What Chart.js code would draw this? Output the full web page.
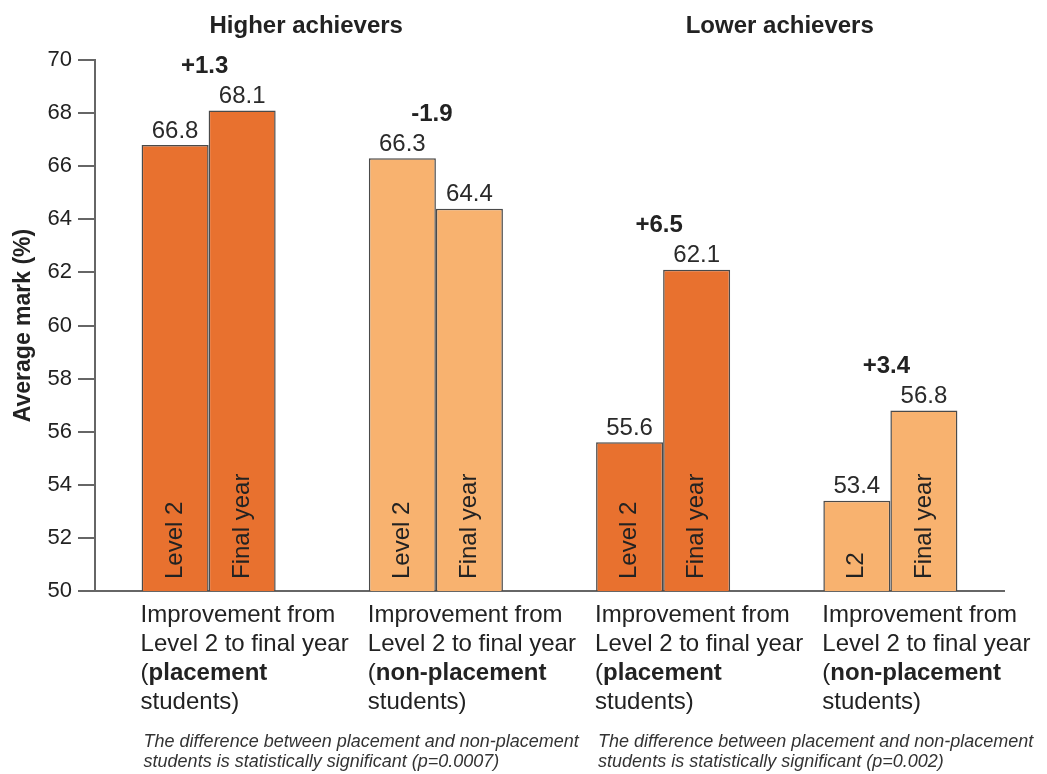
<!DOCTYPE html>
<html>
<head>
<meta charset="utf-8">
<script src="https://cdn.jsdelivr.net/npm/chart.js@4.4.0/dist/chart.umd.min.js"></script>
<style>
  html, body { margin: 0; padding: 0; background: #ffffff; }
  canvas { display: block; }
</style>
</head>
<body>
<canvas id="chart" width="1047" height="774"></canvas>
<script>
// Average marks (%) by group
const groups = ["Higher – placement", "Higher – non-placement", "Lower – placement", "Lower – non-placement"];
const level2Marks = [66.8, 66.3, 55.6, 53.4];
const finalYearMarks = [68.1, 64.4, 62.1, 56.8];
const level2BarText = ["Level 2", "Level 2", "Level 2", "L2"];
const finalYearBarText = ["Final year", "Final year", "Final year", "Final year"];
const studentType = ["placement", "non-placement", "placement", "non-placement"];
const sectionTitles = ["Higher achievers", "Lower achievers"];
const footnotes = [
  ["The difference between placement and non-placement", "students is statistically significant (p=0.0007)"],
  ["The difference between placement and non-placement", "students is statistically significant (p=0.002)"]
];
const yMin = 50, yMax = 70, yStep = 2;

const DARK = "#E8712F";
const LIGHT = "#F8B26F";
const FONT = "'Liberation Sans', Arial, Helvetica, sans-serif";
const TEXT = "#222222";

const fillFor = studentType.map(t => t === "placement" ? DARK : LIGHT);

const annotations = {
  id: "annotations",
  afterDatasetsDraw(chart) {
    const ctx = chart.ctx;
    const m0 = chart.getDatasetMeta(0).data;
    const m1 = chart.getDatasetMeta(1).data;
    const yScale = chart.scales.y;
    const base = yScale.getPixelForValue(yMin);
    ctx.save();

    // value labels above bars and rotated names inside bars
    const drawBarText = (bar, value, name) => {
      ctx.fillStyle = "#2a2a2a";
      ctx.font = "24px " + FONT;
      ctx.textAlign = "center";
      ctx.textBaseline = "middle";
      ctx.fillText(value.toFixed(1), bar.x, bar.y - 14);
      ctx.save();
      ctx.translate(bar.x, base - 12);
      ctx.rotate(-Math.PI / 2);
      ctx.textAlign = "left";
      ctx.textBaseline = "middle";
      ctx.fillStyle = TEXT;
      ctx.fillText(name, 0, 0);
      ctx.restore();
    };

    const centers = [];
    const lefts = [];
    for (let i = 0; i < groups.length; i++) {
      drawBarText(m0[i], level2Marks[i], level2BarText[i]);
      drawBarText(m1[i], finalYearMarks[i], finalYearBarText[i]);
      const cx = (m0[i].x + m1[i].x) / 2;
      centers.push(cx);
      lefts.push(m0[i].x - m0[i].width / 2);

      // change from Level 2 to final year
      const diff = finalYearMarks[i] - level2Marks[i];
      const topY = Math.min(m0[i].y, m1[i].y);
      ctx.font = "bold 24px " + FONT;
      ctx.fillStyle = TEXT;
      ctx.textAlign = "center";
      ctx.textBaseline = "middle";
      ctx.fillText((diff >= 0 ? "+" : "-") + Math.abs(diff).toFixed(1), cx - 4, topY - 44);

      // category description under the axis
      ctx.textAlign = "left";
      const x0 = lefts[i] - 1;
      const lines = [
        [["Improvement from", false]],
        [["Level 2 to final year", false]],
        [["(", false], [studentType[i], true]],
        [["students)", false]]
      ];
      lines.forEach((segs, li) => {
        let x = x0;
        const y = 615 + li * 29;
        segs.forEach(([t, bold]) => {
          ctx.font = (bold ? "bold " : "") + "24px " + FONT;
          ctx.fillText(t, x, y);
          x += ctx.measureText(t).width;
        });
      });
    }

    // section headings
    ctx.font = "bold 24px " + FONT;
    ctx.textAlign = "center";
    ctx.fillStyle = TEXT;
    ctx.fillText(sectionTitles[0], (centers[0] + centers[1]) / 2 - 16, 26);
    ctx.fillText(sectionTitles[1], (centers[2] + centers[3]) / 2 + 3, 26);

    // significance notes
    ctx.font = "italic 18px " + FONT;
    ctx.fillStyle = "#333333";
    ctx.textAlign = "left";
    footnotes.forEach((note, k) => {
      const x = lefts[k * 2] + 2;
      note.forEach((line, li) => ctx.fillText(line, x, 742 + li * 20));
    });

    ctx.restore();
  }
};

new Chart(document.getElementById("chart"), {
  type: "bar",
  data: {
    labels: groups,
    datasets: [
      {
        label: "Level 2",
        data: level2Marks,
        backgroundColor: fillFor,
        borderColor: "#4a4a4a",
        borderWidth: 1.5,
        borderSkipped: "bottom"
      },
      {
        label: "Final year",
        data: finalYearMarks,
        backgroundColor: fillFor,
        borderColor: "#4a4a4a",
        borderWidth: 1.5,
        borderSkipped: "bottom"
      }
    ]
  },
  options: {
    responsive: false,
    devicePixelRatio: 1,
    animation: false,
    layout: { padding: { top: 60, right: 43, left: 0, bottom: 0 } },
    plugins: {
      legend: { display: false },
      tooltip: { enabled: false },
      title: { display: false }
    },
    datasets: {
      bar: { barPercentage: 1.0, categoryPercentage: 0.59 }
    },
    scales: {
      x: {
        type: "category",
        grid: { display: false },
        ticks: { display: false },
        border: { display: true, color: "#666666", width: 2 },
        afterFit(scale) { scale.height = 183; }
      },
      y: {
        min: yMin,
        max: yMax,
        ticks: {
          stepSize: yStep,
          color: TEXT,
          padding: 6,
          font: { family: FONT, size: 22 }
        },
        grid: {
          drawOnChartArea: false,
          drawTicks: true,
          tickLength: 17,
          color: "#666666",
          lineWidth: 2
        },
        border: { display: true, color: "#666666", width: 2 },
        title: {
          display: true,
          text: "Average mark (%)",
          color: TEXT,
          font: { family: FONT, size: 23, weight: "bold" },
          padding: { top: 10, bottom: 0 }
        },
        afterFit(scale) { scale.width = 95; }
      }
    }
  },
  plugins: [annotations]
});
</script>
</body>
</html>
